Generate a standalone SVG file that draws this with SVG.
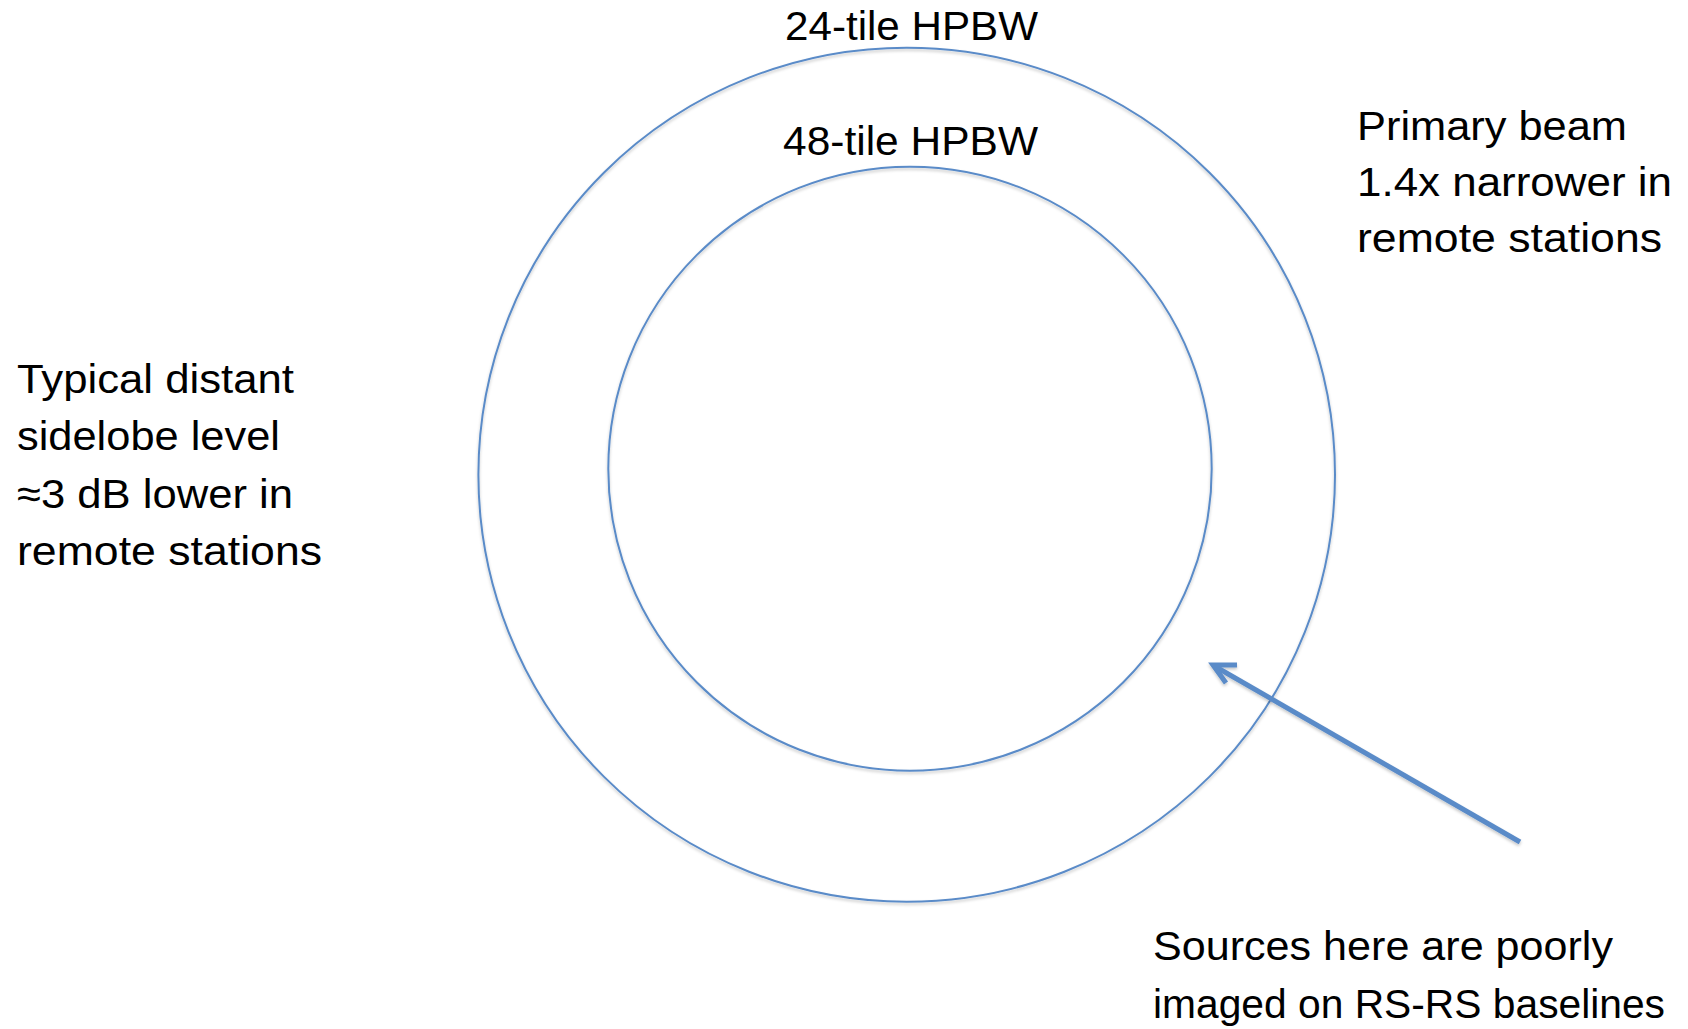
<svg xmlns="http://www.w3.org/2000/svg" width="1688" height="1029" viewBox="0 0 1688 1029">
  <style>
    .ring { fill: none; stroke: #5A8BC8; stroke-width: 2; }
    .arrow { fill: none; stroke: #5A8BC8; stroke-width: 5; stroke-linecap: butt; }
    .lbl { font-family: "Liberation Sans", Arial, sans-serif; font-size: 41px; fill: #000; }
  </style>
  <defs>
    <filter id="shadow" x="-10%" y="-10%" width="120%" height="120%">
      <feDropShadow dx="0" dy="2" stdDeviation="1.5" flood-color="#000" flood-opacity="0.22"/>
    </filter>
  </defs>
  <rect width="1688" height="1029" fill="#fff"/>

  <g id="outer-ring">
    <ellipse class="ring" cx="906.7" cy="474.7" rx="428.3" ry="427" filter="url(#shadow)"/>
    <text class="lbl" x="785" y="39.5" textLength="253" lengthAdjust="spacingAndGlyphs">24-tile HPBW</text>
  </g>

  <g id="inner-ring">
    <ellipse class="ring" cx="910" cy="468.7" rx="301.7" ry="302" filter="url(#shadow)"/>
    <text class="lbl" x="783" y="155" textLength="255" lengthAdjust="spacingAndGlyphs">48-tile HPBW</text>
  </g>

  <g id="primary-beam-note">
    <text class="lbl" x="1357" y="139.5" textLength="270" lengthAdjust="spacingAndGlyphs">Primary beam</text>
    <text class="lbl" x="1357" y="195.5" textLength="315" lengthAdjust="spacingAndGlyphs">1.4x narrower in</text>
    <text class="lbl" x="1357" y="252" textLength="305" lengthAdjust="spacingAndGlyphs">remote stations</text>
  </g>

  <g id="sidelobe-note">
    <text class="lbl" x="17" y="392.5" textLength="277" lengthAdjust="spacingAndGlyphs">Typical distant</text>
    <text class="lbl" x="17" y="450" textLength="263" lengthAdjust="spacingAndGlyphs">sidelobe level</text>
    <text class="lbl" x="17" y="507.5" textLength="276" lengthAdjust="spacingAndGlyphs">≈3 dB lower in</text>
    <text class="lbl" x="17" y="565" textLength="305" lengthAdjust="spacingAndGlyphs">remote stations</text>
  </g>

  <g id="sources-note">
    <text class="lbl" x="1153" y="960" textLength="460" lengthAdjust="spacingAndGlyphs">Sources here are poorly</text>
    <text class="lbl" x="1153" y="1018" textLength="512" lengthAdjust="spacingAndGlyphs">imaged on RS-RS baselines</text>
  </g>

  <g id="connectors">
    <g filter="url(#shadow)">
      <path class="arrow" d="M1520,842 L1216,667"/>
      <path class="arrow" d="M1237,665 L1213,665 L1226,683" stroke-linejoin="miter"/>
    </g>
  </g>
</svg>
